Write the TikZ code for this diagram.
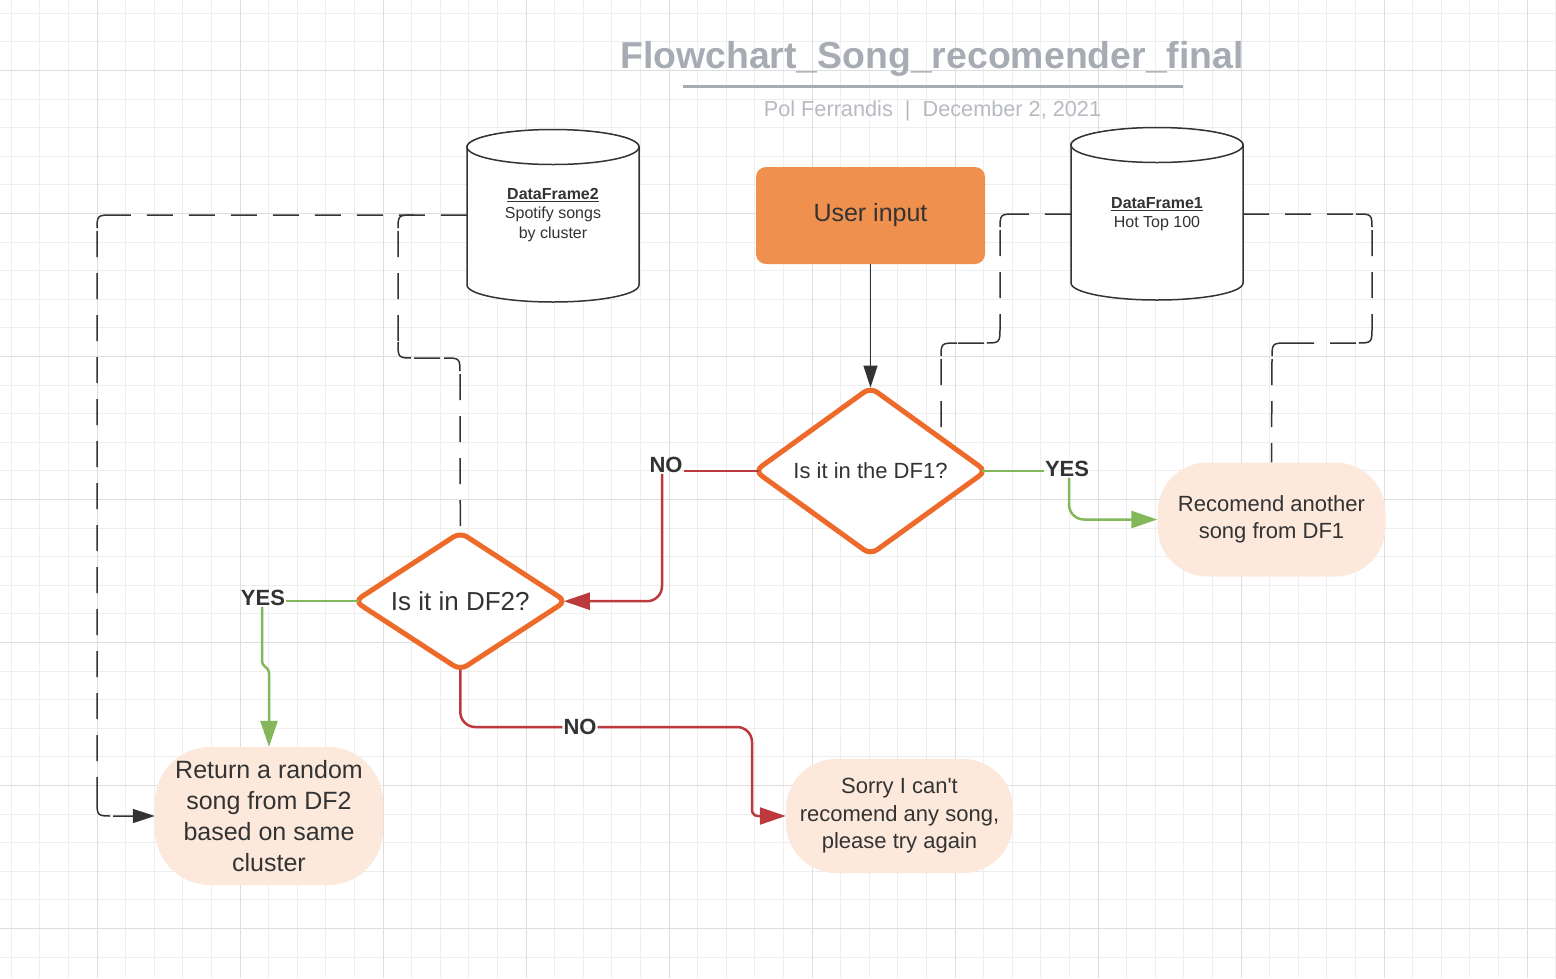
\documentclass[tikz,border=0pt]{standalone}
\usepackage{fontspec}
\setmainfont{Liberation Sans}[Ligatures=TeXOff]
\usetikzlibrary{shapes.geometric,arrows.meta,calc}
\definecolor{gridminc}{HTML}{EEEEEE}
\definecolor{gridmajc}{HTML}{DEDEDE}
\definecolor{txt}{HTML}{333333}
\definecolor{titlec}{HTML}{A7ABB3}
\definecolor{subc}{HTML}{B7BAC1}
\definecolor{orangec}{HTML}{EE6A2A}
\definecolor{uic}{HTML}{F0904E}
\definecolor{peach}{HTML}{FCE9DC}
\definecolor{redc}{HTML}{BC3A3E}
\definecolor{greenc}{HTML}{84B75A}
\begin{document}
\begin{tikzpicture}[x=1pt,y=-1pt,
  gridmin/.style={draw=gridminc, line width=1pt},
  gridmaj/.style={draw=gridmajc, line width=1pt},
  cyl/.style={draw=txt, fill=white, line width=1.5pt},
  cyltext/.style={rectangle, align=center, inner sep=0pt, minimum width=172pt, text=txt, font=\fontsize{16}{19.3}\selectfont},
  uibox/.style={rectangle, fill=uic, rounded corners=10pt, minimum width=229pt, minimum height=97pt, text=txt, font=\fontsize{25}{30}\selectfont},
  decision/.style={diamond, draw=orangec, fill=white, line width=5pt, rounded corners=8pt, inner sep=0pt, outer sep=0pt, text=txt},
  outcome/.style={rectangle, fill=peach, align=center, inner sep=0pt, text=txt},
  lbl/.style={text=txt, inner sep=1pt, font=\bfseries\fontsize{22}{26}\selectfont},
  redline/.style={draw=redc, line width=2.5pt},
  greenline/.style={draw=greenc, line width=2.5pt},
  darkline/.style={draw=txt, line width=1.5pt},
  dashline/.style={draw=txt, line width=1.5pt, dash pattern=on 26pt off 16pt},
  bigtip/.style={-{Triangle[length=26pt,width=17pt]}},
  darktip/.style={-{Triangle[length=22pt,width=14pt]}}
]
\useasboundingbox (0,0) rectangle (1556,978);
\fill[white] (0,0) rectangle (1556,978);
% grid
\foreach \i in {0,...,54} {\draw[gridmin] ({11.3+28.6*\i},0) -- ++(0,978);}
\foreach \i in {0,...,33} {\draw[gridmin] (0,{13.3+28.6*\i}) -- ++(1556,0);}
\foreach \i in {0,...,10} {\draw[gridmaj] ({97.1+143*\i},0) -- ++(0,978);}
\foreach \i in {0,...,6} {\draw[gridmaj] (0,{70.5+143*\i}) -- ++(1556,0);}

% title
\node[anchor=base, text=titlec, inner sep=0pt, font=\bfseries\fontsize{37.4}{40}\selectfont] (title) at (932,68.5) {Flowchart\_Song\_recomender\_final};
\draw[titlec, line width=3pt] (683,86) -- (1183,86);
\node[anchor=base, text=subc, inner sep=0pt, font=\fontsize{21.7}{26}\selectfont] (sub) at (932.5,116) {Pol Ferrandis\ \ |\ \ December 2, 2021};

% cylinders
\filldraw[cyl] (467,147) -- (467,285) arc[start angle=180,end angle=0,x radius=86,y radius=17] -- (639,147) arc[start angle=0,end angle=-180,x radius=86,y radius=17] -- cycle;
\draw[cyl] (553,147) ellipse[x radius=86,y radius=17.5];
\filldraw[cyl] (1071,145) -- (1071,283) arc[start angle=180,end angle=0,x radius=86,y radius=17] -- (1243,145) arc[start angle=0,end angle=-180,x radius=86,y radius=17] -- cycle;
\draw[cyl] (1157,145) ellipse[x radius=86,y radius=17.5];
\node[cyltext] (df2) at (553,215) {\underline{\textbf{DataFrame2}}\\Spotify songs\\by cluster};
\node[cyltext] (df1) at (1157,214) {\underline{\textbf{DataFrame1}}\\Hot Top 100};

% main nodes
\node[uibox] (ui) at (870.5,215.5) {User input};
\node[decision, minimum width=231pt, minimum height=167pt, aspect=1.38, font=\fontsize{22}{26}\selectfont] (d1) at (870.5,471) {Is it in the DF1?};
\node[decision, minimum width=211pt, minimum height=137.5pt, aspect=1.53, font=\fontsize{26}{30}\selectfont] (d2) at (460.3,601.2) {Is it in DF2?};
\node[outcome, rounded corners=50pt, minimum width=228pt, minimum height=114pt, font=\fontsize{22}{27}\selectfont] (rec) at (1271.5,519.5) {Recomend another\\song from DF1};
\node[outcome, rounded corners=55pt, minimum width=228pt, minimum height=138pt, font=\fontsize{25}{31}\selectfont] (rt) at (269,816) {Return a random\\song from DF2\\based on same\\cluster};
\node[outcome, rounded corners=50pt, minimum width=227pt, minimum height=114pt, font=\fontsize{22}{27.5}\selectfont] (sorry) at (899.5,816) {Sorry I can't\\recomend any song,\\please try again};

% labels
\node[lbl] (no1) at (666,465) {NO};
\node[lbl] (yes1) at (1067,469) {YES};
\node[lbl] (yes2) at (263,598) {YES};
\node[lbl] (no2) at (580,727) {NO};

% helper coordinates
\coordinate (j1) at (262,664);
\coordinate (j2) at (269,670);
\coordinate (r1) at (752,729);
\coordinate (r2) at (752,816);
\coordinate (c1) at (941,437);

% solid connectors
\draw[darkline, darktip] (ui.south) -- (d1.north);
\draw[redline] ([xshift=4pt]d1.west) -- (d1.west -| no1.east);
\draw[redline, bigtip, rounded corners=15pt] ([xshift=-4pt]no1.south) |- ([xshift=-2pt]d2.east);
\draw[greenline] ([xshift=-4pt]d1.east) -- (d1.east -| yes1.west);
\draw[greenline, bigtip, rounded corners=15pt] ([xshift=2pt]yes1.south) |- (rec.west);
\draw[greenline] ([xshift=4pt]d2.west) -- (d2.west -| yes2.east);
\draw[greenline, bigtip, rounded corners=3pt] (yes2.south -| j1) -- (j1) -- (j2) -- (rt.north);
\draw[redline, rounded corners=15pt] (d2.south) |- (no2.west);
\draw[redline, bigtip] (no2.east) [rounded corners=15pt] -- (no2.east -| r1) [rounded corners=6pt] -- (r2) -- (sorry.west);

% dashed connectors (each straight run and each corner is its own subpath, so corners stay solid)
\draw[dashline, darktip] (df2.west) -- (113,215)
  (113,215) .. controls (97,215) .. (97,231)
  (97,231) -- (97,800)
  (97,800) .. controls (97,816) .. (113,816)
  (113,816) -- (rt.west);
\draw[dashline] (414,215) .. controls (398,215) .. (398,231)
  (398,231) -- (398,342)
  (398,342) .. controls (398,358) .. (414,358)
  (414,358) -- (444,358)
  (444,358) .. controls (460,358) .. (460,374)
  (460,374) -- (d2.north);
\draw[dashline] (df1.west) -- (1016,214)
  (1016,214) .. controls (1000,214) .. (1000,230)
  (1000,230) -- (1000,327)
  (1000,327) .. controls (1000,343) .. (984,343)
  (984,343) -- (957,343)
  (957,343) .. controls (941,343) .. (941,359)
  (941,359) -- (c1);
\draw[dashline] (df1.east) -- (1356,214)
  (1356,214) .. controls (1372,214) .. (1372,230)
  (1372,230) -- (1372,327)
  (1372,327) .. controls (1372,343) .. (1356,343)
  (1356,343) -- (1288,343)
  (1288,343) .. controls (1272,343) .. (1272,359)
  (1272,359) -- (rec.north);
\end{tikzpicture}
\end{document}
